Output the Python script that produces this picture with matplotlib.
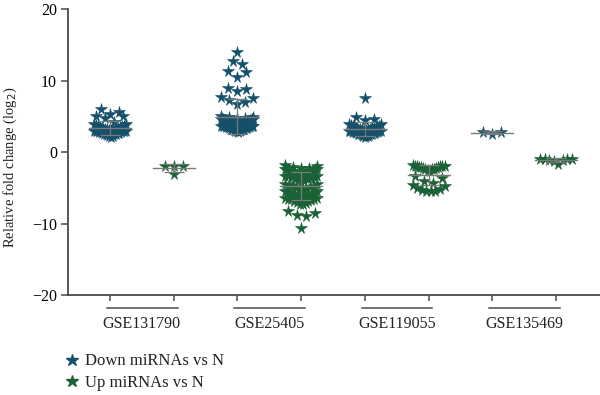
import numpy as np
import matplotlib
matplotlib.use("Agg")
import matplotlib.pyplot as plt
from matplotlib.lines import Line2D
import matplotlib.transforms as mtransforms

plt.rcParams['font.family'] = ['Liberation Serif', 'DejaVu Serif']
plt.rcParams['axes.unicode_minus'] = True

# ---------------- data ----------------
datasets = ["GSE131790", "GSE25405", "GSE119055", "GSE135469"]
series_names = ["Down miRNAs vs N", "Up miRNAs vs N"]

down_131790 = [6.1, 5.6, 5.4, 5.1, 5.0, 4.8, 4.2, 4.0, 3.9, 3.8, 3.7, 3.6, 3.6, 3.5, 3.5,
               3.4, 3.4, 3.3, 3.3, 3.3, 3.2, 3.2, 3.1, 3.1, 3.1, 3.0, 3.0, 3.0, 2.9, 2.9,
               2.9, 2.8, 2.8, 2.8, 2.7, 2.7, 2.7, 2.6, 2.6, 2.5, 2.5, 2.4, 2.3, 2.2, 2.1]
up_131790 = [-2.0, -3.1, -2.0, -2.0]

down_25405 = [14.0, 12.7, 12.4, 11.3, 11.2, 10.5, 9.0, 8.8, 8.6, 7.7, 7.6, 7.3, 7.0, 6.8,
              5.0, 4.9, 4.9, 4.8, 4.8, 4.7, 4.7, 4.7, 4.6, 4.6, 4.6, 4.5, 4.5, 4.5, 4.5,
              4.4, 4.4, 4.4, 4.4, 4.3, 4.3, 4.3, 4.3, 4.2, 4.2, 4.2, 4.2, 4.1, 4.1, 4.1,
              4.1, 4.0, 4.0, 4.0, 4.0, 3.9, 3.9, 3.9, 3.9, 3.8, 3.8, 3.8, 3.8, 3.7, 3.7,
              3.7, 3.6, 3.6, 3.6, 3.5, 3.5, 3.5, 3.4, 3.4, 3.4, 3.3, 3.3, 3.2, 3.2, 3.1,
              3.1, 3.0, 3.0, 2.9, 2.8]
up_25405 = [-1.8, -2.0, -2.1, -2.2, -2.2, -2.3, -2.3, -2.4, -2.4, -2.5, -2.5, -2.6, -2.6,
            -2.7, -2.7, -2.8, -2.8, -2.9, -2.9, -3.0, -3.0, -3.1, -3.1, -3.2, -3.2, -3.3,
            -3.3, -3.4, -3.5, -3.5, -3.6, -3.7, -3.8, -3.9, -4.0, -4.2, -4.4, -4.5, -4.6,
            -4.7, -4.8, -4.9, -5.0, -5.1, -5.2, -5.3, -5.4, -5.5, -5.6, -5.7, -5.7, -5.8,
            -5.8, -5.9, -5.9, -6.0, -6.0, -6.1, -6.1, -6.2, -6.2, -6.3, -6.3, -6.4, -6.4,
            -6.5, -6.5, -6.6, -6.7, -6.8, -6.9, -7.0, -7.1, -7.2, -7.3, -8.2, -8.5, -8.8,
            -9.0, -10.6]

down_119055 = [7.6, 4.9, 4.7, 4.5, 4.0, 3.9, 3.8, 3.7, 3.6, 3.6, 3.5, 3.5, 3.4, 3.4, 3.3,
               3.3, 3.2, 3.2, 3.1, 3.1, 3.0, 3.0, 3.0, 2.9, 2.9, 2.9, 2.8, 2.8, 2.8, 2.7,
               2.7, 2.7, 2.6, 2.6, 2.6, 2.5, 2.5, 2.4, 2.4, 2.3, 2.3, 2.2, 2.1]
up_119055 = [-1.8, -1.9, -1.9, -2.0, -2.0, -2.0, -2.1, -2.1, -2.1, -2.2, -2.2, -2.3, -2.3,
             -2.4, -2.5, -2.6, -3.4, -3.6, -4.0, -4.3, -4.6, -4.8, -5.0, -5.2, -5.3, -5.4,
             -5.5, -5.5]

down_135469 = [2.85, 2.5, 2.85]
up_135469 = [-1.0, -0.9, -1.0, -1.1, -1.3, -1.7, -1.1, -0.9]

down_groups = [down_131790, down_25405, down_119055, down_135469]
up_groups = [up_131790, up_25405, up_119055, up_135469]

yticks = [-20, -10, 0, 10, 20]

# ---------------- styling ----------------
c_down = "#14506a"
c_up = "#1b6136"
c_mean = "#7a7a7a"
c_axis = "#4a4a4a"

W, H = 600, 395
fig = plt.figure(figsize=(W / 100, H / 100), dpi=100)
ax_l, ax_r, ax_b, ax_t = 68, 600, 295, 9.3
ax = fig.add_axes([ax_l / W, 1 - ax_b / H, (ax_r - ax_l) / W, (ax_b - ax_t) / H])
xmin, xmax = -0.659, 7.69
ax.set_xlim(xmin, xmax)
ax.set_ylim(-20, 20)

px_per_x = (ax_r - ax_l) / (xmax - xmin)
px_per_y = (ax_b - ax_t) / 40.0


def row_offsets(vals, row_h=1.0, step=9.0, maxspan=32.0):
    """Prism-like scatter layout: group sorted values into rows of height
    row_h, spread each row symmetrically (lowest value in the centre),
    compressing the spacing when a row would be too wide."""
    vals = np.asarray(vals, float)
    order = np.argsort(vals, kind="stable")
    rows, cur, start = [], [], None
    for i in order:
        if start is None or vals[i] - start >= row_h:
            if cur:
                rows.append(cur)
            cur, start = [i], vals[i]
        else:
            cur.append(i)
    if cur:
        rows.append(cur)
    offs = np.zeros(len(vals))
    for idx in rows:
        n = len(idx)
        s = step if n <= 1 else min(step, maxspan / (n - 1))
        slots = np.arange(n) - (n - 1) / 2.0
        slot_order = np.argsort(np.abs(slots) + 1e-3 * (slots < 0), kind="stable")
        for k, j in zip(slot_order, idx):
            offs[j] = slots[k] * s / px_per_x
    return offs


positions_down = [0, 2, 4, 6]
positions_up = [1, 3, 5, 7]

for pos, vals, col in ([(p, v, c_down) for p, v in zip(positions_down, down_groups)] +
                       [(p, v, c_up) for p, v in zip(positions_up, up_groups)]):
    offs = row_offsets(vals)
    ax.plot(pos + offs, vals, linestyle="none", marker="*", markersize=8.5,
            color=col, markeredgecolor=col, markeredgewidth=0.4, zorder=3)
    m = np.mean(vals)
    sd = np.std(vals, ddof=1) if len(vals) > 1 else 0
    ax.plot([pos - 0.33, pos + 0.33], [m, m], color=c_mean, lw=1.0, zorder=4)
    ax.errorbar([pos], [m], yerr=[sd], color=c_mean, lw=0.9, capsize=7,
                capthick=0.9, zorder=4)

# axes styling
for s in ["top", "right"]:
    ax.spines[s].set_visible(False)
for s in ["left", "bottom"]:
    ax.spines[s].set_color(c_axis)
    ax.spines[s].set_linewidth(1.3)
ax.set_yticks(yticks)
ax.set_yticklabels([f"{t}".replace("-", "\u2212") for t in yticks], fontsize=11.5)
ax.tick_params(axis="y", direction="out", length=5, width=1.1, color=c_axis, pad=3)
ax.set_xticks(positions_down + positions_up)
ax.set_xticklabels([])
ax.tick_params(axis="x", direction="out", length=4.5, width=1.1, color=c_axis)

# group labels with underline
trans = mtransforms.blended_transform_factory(ax.transData, ax.transAxes)
for i, name in enumerate(datasets):
    a, b = 2 * i, 2 * i + 1
    ax.plot([a - 0.05, b + 0.06], [-0.045, -0.045], color=c_axis, lw=1.1,
            transform=trans, clip_on=False)
    ax.text((a + b) / 2, -0.1, name, transform=trans, ha="center", va="center",
            fontsize=11.5, color="#222222")

fig.text(10 / W, 1 - 167 / H, "Relative fold change (log$_2$)", rotation=90,
         ha="center", va="center", fontsize=10.5, color="#222222")

handles = [Line2D([], [], linestyle="none", marker="*", markersize=9, color=c_down),
           Line2D([], [], linestyle="none", marker="*", markersize=9, color=c_up)]
fig.legend(handles, series_names, loc="upper left", bbox_to_anchor=(55 / W, 1 - 345 / H),
           frameon=False, fontsize=12, handlelength=1.0, handletextpad=0.3,
           labelspacing=0.35, borderpad=0, labelcolor="#222222")

fig.savefig("out.png", dpi=100)
